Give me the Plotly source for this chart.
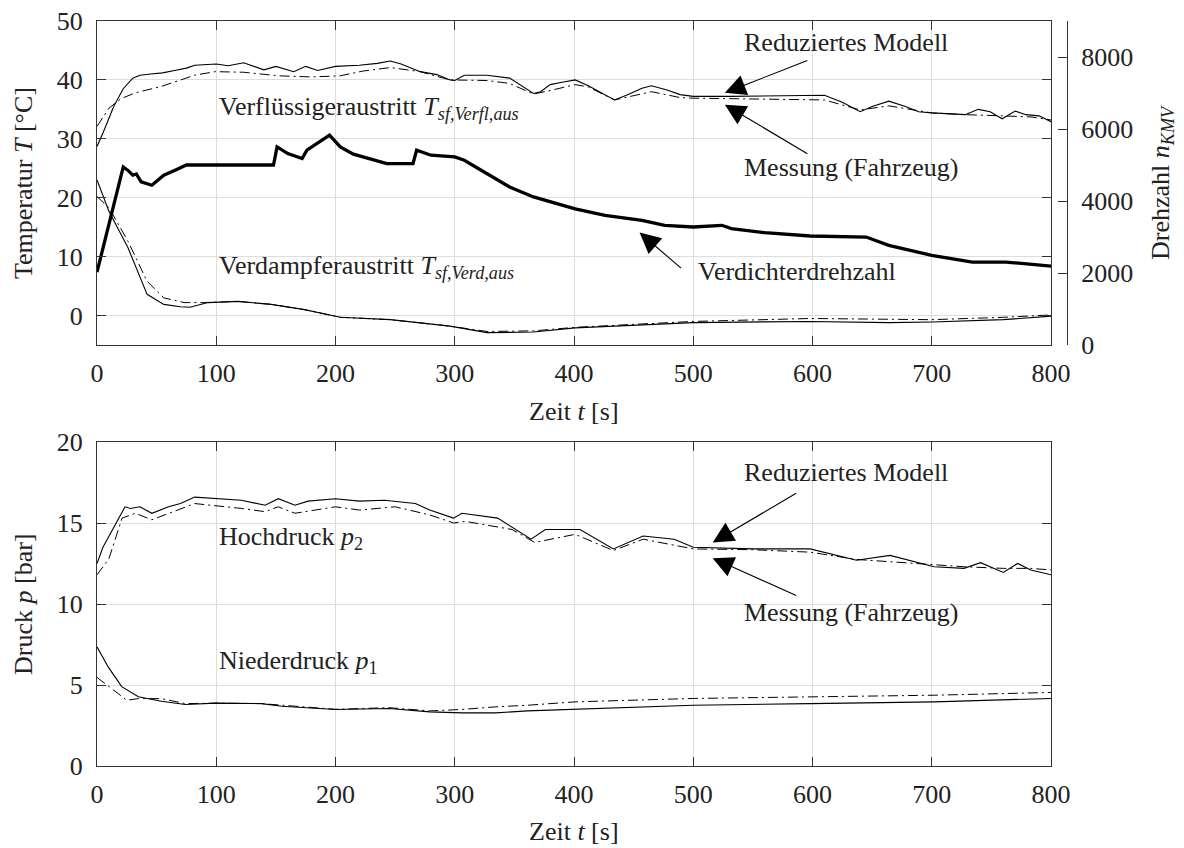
import plotly.graph_objects as go

# ---------------- data ----------------
# Top plot: condenser outlet temperature (solid / dash-dot)
verfl_solid_t = [0, 5, 14, 22, 30, 36, 45, 55, 65, 75, 82, 90, 100, 110, 123, 140, 150, 165, 175, 185, 200, 220, 235, 246, 255, 271, 285, 296, 300, 308, 327, 346, 356, 366, 372, 380, 390, 401, 412, 425, 434, 445, 457, 465, 478, 489, 500, 530, 560, 598, 610, 625, 640, 650, 664, 678, 689, 700, 714, 728, 739, 749, 759, 770, 779, 790, 800]
verfl_solid_T = [28.7, 31.0, 35.5, 38.5, 40.3, 40.8, 41.0, 41.2, 41.6, 42.0, 42.5, 42.6, 42.7, 42.4, 42.9, 41.7, 42.3, 41.4, 42.3, 41.6, 42.3, 42.5, 42.8, 43.2, 42.7, 41.4, 40.9, 40.0, 39.9, 40.8, 40.8, 40.3, 39.0, 37.7, 38.0, 39.2, 39.6, 40.0, 39.0, 37.6, 36.6, 37.5, 38.6, 39.0, 38.3, 37.5, 37.2, 37.2, 37.3, 37.3, 37.4, 36.2, 34.6, 35.5, 36.4, 35.5, 34.6, 34.4, 34.3, 34.1, 35.0, 34.6, 33.4, 34.7, 34.1, 33.9, 32.9]

verfl_dash_t = [0, 10, 20, 32, 54, 82, 99, 123, 152, 180, 204, 223, 246, 271, 296, 327, 346, 366, 380, 401, 412, 434, 465, 489, 500, 600, 610, 640, 664, 700, 728, 759, 784, 800]
verfl_dash_T = [32.1, 35.2, 36.8, 37.8, 38.9, 40.8, 41.4, 41.3, 40.7, 40.5, 40.7, 41.5, 42.1, 41.4, 40.0, 39.9, 39.4, 37.6, 38.2, 39.2, 38.8, 36.6, 38.0, 37.0, 36.9, 36.6, 36.6, 34.9, 35.6, 34.4, 34.1, 33.9, 33.7, 33.2]

# Top plot: evaporator outlet temperature
verd_solid_t = [0, 10, 26, 42, 56, 70, 78, 93, 118, 146, 174, 204, 246, 296, 327, 366, 401, 450, 500, 598, 664, 700, 760, 800]
verd_solid_T = [23.0, 17.7, 11.5, 3.6, 1.9, 1.5, 1.4, 2.2, 2.4, 1.9, 1.0, -0.3, -0.7, -1.8, -2.9, -2.8, -2.1, -1.7, -1.2, -1.0, -1.2, -1.1, -0.7, -0.1]
verd_dash_t = [0, 10, 26, 42, 56, 73, 90, 118, 146, 174, 204, 246, 296, 327, 366, 401, 450, 500, 598, 664, 700, 760, 800]
verd_dash_T = [20.2, 18.3, 12.6, 5.8, 3.0, 2.2, 2.2, 2.4, 1.9, 1.0, -0.3, -0.7, -1.8, -2.7, -2.6, -2.0, -1.5, -1.0, -0.5, -0.7, -0.7, -0.3, 0.1]

# Top plot (right axis): compressor speed
n_t = [0, 22, 26, 30, 33, 37, 46, 50, 56, 65, 73, 75, 148, 151, 160, 172, 176, 185, 195, 204, 215, 223, 243, 265, 268, 280, 300, 308, 330, 346, 366, 392, 401, 426, 457, 476, 500, 524, 532, 560, 598, 645, 664, 700, 734, 762, 800]
n_val = [2025, 4947, 4850, 4716, 4750, 4530, 4438, 4550, 4716, 4850, 4975, 5000, 5000, 5503, 5318, 5180, 5411, 5600, 5830, 5503, 5300, 5225, 5040, 5040, 5411, 5272, 5225, 5133, 4716, 4391, 4113, 3881, 3780, 3603, 3464, 3325, 3278, 3325, 3232, 3121, 3028, 2999, 2768, 2490, 2304, 2304, 2193]

# Bottom plot: high pressure
hoch_solid_t = [0, 5, 23.5, 28, 36, 46, 60, 70, 82, 100, 121, 141, 152, 166, 177, 200, 220, 241, 267, 279, 299, 306, 336, 364, 376, 397, 405, 433, 458, 484, 500, 550, 598, 637, 665, 702, 727, 741, 760, 772, 783, 800]
hoch_solid_p = [12.5, 13.5, 16.0, 15.9, 16.0, 15.6, 16.0, 16.2, 16.6, 16.5, 16.4, 16.1, 16.5, 16.1, 16.35, 16.5, 16.35, 16.4, 16.2, 15.8, 15.3, 15.6, 15.3, 14.0, 14.6, 14.6, 14.6, 13.4, 14.2, 14.0, 13.5, 13.4, 13.4, 12.7, 13.0, 12.3, 12.2, 12.55, 11.95, 12.5, 12.1, 11.8]
hoch_dash_t = [0, 10, 21, 32, 46, 82, 121, 141, 152, 166, 200, 220, 250, 279, 299, 309, 348, 367, 401, 433, 458, 500, 550, 598, 637, 702, 727, 760, 783, 800]
hoch_dash_p = [11.8, 12.8, 15.3, 15.6, 15.2, 16.2, 15.9, 15.7, 16.0, 15.6, 16.0, 15.8, 16.0, 15.5, 15.0, 15.1, 14.6, 13.8, 14.3, 13.3, 14.0, 13.4, 13.35, 13.2, 12.75, 12.4, 12.3, 12.2, 12.2, 12.1]

# Bottom plot: low pressure
nied_solid_t = [0, 9.5, 20.7, 34.7, 54, 74, 100, 138, 155, 200, 245, 279, 306, 334, 361, 401, 500, 598, 702, 800]
nied_solid_p = [7.36, 6.1, 4.9, 4.27, 4.0, 3.8, 3.88, 3.85, 3.69, 3.49, 3.55, 3.34, 3.28, 3.28, 3.4, 3.5, 3.75, 3.85, 3.96, 4.17]
nied_dash_t = [0, 9.5, 25, 34.7, 54, 74, 100, 138, 200, 245, 279, 306, 334, 361, 401, 500, 598, 702, 800]
nied_dash_p = [5.47, 4.93, 4.06, 4.16, 4.16, 3.85, 3.88, 3.85, 3.5, 3.6, 3.4, 3.49, 3.65, 3.75, 3.96, 4.17, 4.27, 4.37, 4.54]

x_ticks = [0, 100, 200, 300, 400, 500, 600, 700, 800]
temp_ticks = [0, 10, 20, 30, 40, 50]
n_ticks = [0, 2000, 4000, 6000, 8000]
p_ticks = [0, 5, 10, 15, 20]

# ---------------- styling ----------------
W, H = 1184, 848
FONT = "Liberation Serif"
FS = 26
TXT = "#222222"
AX = "#333333"
GRID = "#dddddd"
DASH = "10px,4px,2px,4px"

def px(x):
    return x / W

def py(y):
    return 1 - y / H

fig = go.Figure()

line_solid = dict(color="black", width=1.1)
line_dash = dict(color="black", width=1.0, dash=DASH)

fig.add_trace(go.Scatter(x=verfl_solid_t, y=verfl_solid_T, mode="lines", line=line_solid, xaxis="x", yaxis="y", name="Reduziertes Modell"))
fig.add_trace(go.Scatter(x=verfl_dash_t, y=verfl_dash_T, mode="lines", line=line_dash, xaxis="x", yaxis="y", name="Messung (Fahrzeug)"))
fig.add_trace(go.Scatter(x=verd_solid_t, y=verd_solid_T, mode="lines", line=line_solid, xaxis="x", yaxis="y", name="Reduziertes Modell"))
fig.add_trace(go.Scatter(x=verd_dash_t, y=verd_dash_T, mode="lines", line=line_dash, xaxis="x", yaxis="y", name="Messung (Fahrzeug)"))
fig.add_trace(go.Scatter(x=n_t, y=n_val, mode="lines", line=dict(color="black", width=3.3), xaxis="x", yaxis="y3", name="Verdichterdrehzahl"))

fig.add_trace(go.Scatter(x=hoch_solid_t, y=hoch_solid_p, mode="lines", line=line_solid, xaxis="x2", yaxis="y2", name="Reduziertes Modell"))
fig.add_trace(go.Scatter(x=hoch_dash_t, y=hoch_dash_p, mode="lines", line=line_dash, xaxis="x2", yaxis="y2", name="Messung (Fahrzeug)"))
fig.add_trace(go.Scatter(x=nied_solid_t, y=nied_solid_p, mode="lines", line=line_solid, xaxis="x2", yaxis="y2", name="Reduziertes Modell"))
fig.add_trace(go.Scatter(x=nied_dash_t, y=nied_dash_p, mode="lines", line=line_dash, xaxis="x2", yaxis="y2", name="Messung (Fahrzeug)"))

x_dom = [px(97), px(1051)]
top_dom = [py(345), py(21)]
bot_dom = [py(766), py(442)]

common = dict(
    showline=True, linecolor=AX, linewidth=1, mirror="ticks",
    ticks="inside", ticklen=9, tickcolor=AX, tickwidth=1,
    showgrid=True, gridcolor=GRID, gridwidth=1, zeroline=False,
    automargin=False, ticklabeloverflow="allow",
    tickfont=dict(family=FONT, size=FS, color=TXT),
)

fig.update_layout(
    template="none",
    width=W, height=H, autosize=False,
    margin=dict(l=0, r=0, t=0, b=0, pad=0),
    paper_bgcolor="white", plot_bgcolor="white",
    showlegend=False,
    font=dict(family=FONT, size=FS, color=TXT),
    xaxis=dict(domain=x_dom, anchor="y", range=[0, 800], tickvals=x_ticks, ticklabelstandoff=5, **common),
    yaxis=dict(domain=top_dom, anchor="x", range=[-5, 50], tickvals=temp_ticks, ticklabelstandoff=8, **common),
    xaxis2=dict(domain=x_dom, anchor="y2", range=[0, 800], tickvals=x_ticks, ticklabelstandoff=5, **common),
    yaxis2=dict(domain=bot_dom, anchor="x2", range=[0, 20], tickvals=p_ticks, ticklabelstandoff=8, **common),
    yaxis3=dict(overlaying="y", anchor="free", position=px(1067), side="right",
                range=[0, 9000], tickvals=n_ticks, showline=True, linecolor=AX, linewidth=1,
                ticks="inside", ticklen=9, tickcolor=AX, showgrid=False, zeroline=False,
                ticklabelstandoff=8, automargin=False, ticklabeloverflow="allow",
                tickfont=dict(family=FONT, size=FS, color=TXT)),
)

ann = []

def text(x, y, s, xanchor="left", angle=0):
    ann.append(dict(x=px(x), y=py(y), xref="paper", yref="paper", text=s, showarrow=False,
                    xanchor=xanchor, yanchor="middle", textangle=angle,
                    font=dict(family=FONT, size=FS, color=TXT)))

# axis titles
text(23, 183, "Temperatur <i>T</i> [°C]", xanchor="center", angle=-90)
text(23, 604, "Druck <i>p</i> [bar]", xanchor="center", angle=-90)
text(1162, 183, "Drehzahl <i>n</i><sub><i>KMV</i></sub>", xanchor="center", angle=-90)
text(574, 411, "Zeit <i>t</i> [s]", xanchor="center")
text(574, 831, "Zeit <i>t</i> [s]", xanchor="center")

# inline labels
text(217, 108, "Verflüssigeraustritt <i>T</i><sub><i>sf,Verfl,aus</i></sub>")
text(217, 267, "Verdampferaustritt <i>T</i><sub><i>sf,Verd,aus</i></sub>")
text(742, 43, "Reduziertes Modell")
text(742, 167, "Messung (Fahrzeug)")
text(696, 272, "Verdichterdrehzahl")
text(217, 538, "Hochdruck <i>p</i><sub>2</sub>")
text(217, 662, "Niederdruck <i>p</i><sub>1</sub>")
text(742, 473, "Reduziertes Modell")
text(742, 612, "Messung (Fahrzeug)")

def arrow(x, y, xref, yref, ax, ay):
    ann.append(dict(x=x, y=y, xref=xref, yref=yref, ax=ax, ay=ay, axref="pixel", ayref="pixel",
                    text="", showarrow=True, arrowhead=2, arrowsize=3.8, arrowwidth=1.1,
                    arrowcolor="black", standoff=0))

arrow(526.5, 37.8, "x", "y", 84, -33)
arrow(526.5, 35.8, "x", "y", 84, 50)
arrow(455, 14.1, "x", "y", 43, 37)
arrow(516.3, 13.8, "x2", "y2", 85, -50)
arrow(516.3, 12.83, "x2", "y2", 85, 38)

fig.update_layout(annotations=ann)

fig.write_html(
    "out.html",
    config={"displayModeBar": False},
    post_script="document.body.style.margin='0';document.body.style.overflow='hidden';",
)
